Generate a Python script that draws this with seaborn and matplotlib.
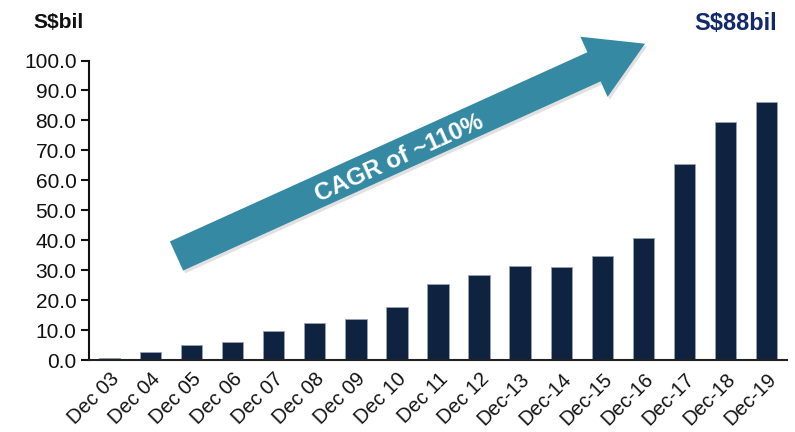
import matplotlib
matplotlib.use("Agg")
import matplotlib.pyplot as plt
import matplotlib.patches as mpatches
import matplotlib.patheffects as pe
from matplotlib.transforms import IdentityTransform
import seaborn as sns
import pandas as pd

periods = ["Dec 03", "Dec 04", "Dec 05", "Dec 06", "Dec 07", "Dec 08", "Dec 09",
           "Dec 10", "Dec 11", "Dec 12", "Dec-13", "Dec-14", "Dec-15", "Dec-16",
           "Dec-17", "Dec-18", "Dec-19"]
values = [0.8, 2.8, 4.9, 6.1, 9.7, 12.3, 13.8, 17.6, 25.3, 28.3, 31.3, 31.0,
          34.7, 40.7, 65.3, 79.3, 86.1]
y_ticks = [0, 10, 20, 30, 40, 50, 60, 70, 80, 90, 100]

sns.set_theme(style="white")
plt.rcParams["font.family"] = ["Liberation Sans", "DejaVu Sans"]

df = pd.DataFrame({"period": periods, "value": values})

W, H = 795, 432
fig = plt.figure(figsize=(W / 100, H / 100), dpi=100)
ax = fig.add_axes([89 / W, 1 - 360 / H, (787 - 89) / W, (360 - 60.5) / H])

sns.barplot(data=df, x="period", y="value", color="#0f2340", width=0.52,
            saturation=1, ax=ax, edgecolor="#9aa3b5", linewidth=0.6)

ax.set_xlim(-0.5, len(periods) - 0.5)
ax.set_ylim(0, 100)
ax.set_yticks(y_ticks)
ax.set_yticklabels([f"{v:.1f}" for v in y_ticks], fontsize=15, color="#111111")
ax.set_xlabel("")
ax.set_ylabel("")

for lbl in ax.get_xticklabels():
    lbl.set_rotation(45)
    lbl.set_ha("right")
    lbl.set_rotation_mode("anchor")
    lbl.set_fontsize(14.5)
    lbl.set_color("#111111")

for side in ("top", "right"):
    ax.spines[side].set_visible(False)
ax.spines["left"].set_linewidth(1.5)
ax.spines["left"].set_color("#111111")
ax.spines["bottom"].set_linewidth(1.5)
ax.spines["bottom"].set_color("#222222")
ax.tick_params(axis="y", which="major", direction="out", length=6, width=1.5,
               color="#111111", left=True, pad=3)
ax.tick_params(axis="x", which="major", length=0, pad=7)

# Growth arrow (drawn in display pixels)
tail = (176.5, H - 256)
tip = (645, H - 43.7)
arrow = mpatches.FancyArrow(tail[0], tail[1], tip[0] - tail[0], tip[1] - tail[1],
                            width=32, head_width=66, head_length=56,
                            length_includes_head=True, transform=IdentityTransform(),
                            color="#3589a3", linewidth=0,
                            path_effects=[pe.withSimplePatchShadow(offset=(1.5, -2),
                                                                   shadow_rgbFace="#888888",
                                                                   alpha=0.25)])
fig.add_artist(arrow)
fig.text(399 / W, 1 - 158 / H, "CAGR of ~110%", rotation=24.4, rotation_mode="anchor",
         ha="center", va="center", color="white", fontsize=17.5, fontweight="bold")

fig.text(33 / W, 1 - 22 / H, "S$bil", ha="left", va="center", fontsize=15,
         fontweight="bold", color="#111111")
fig.text(777 / W, 1 - 23 / H, "S$88bil", ha="right", va="center", fontsize=17,
         fontweight="bold", color="#12296b")

fig.savefig("out.png", dpi=100)
